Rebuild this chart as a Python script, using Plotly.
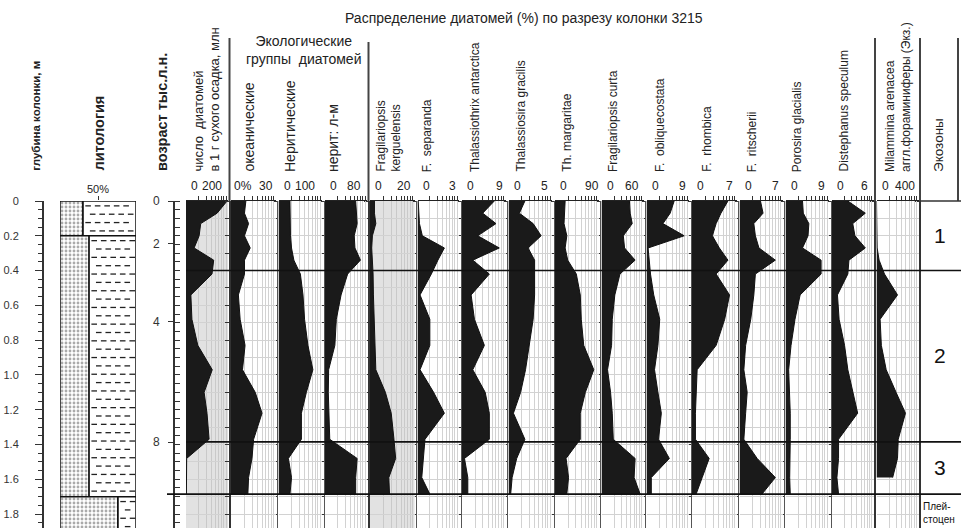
import plotly.graph_objects as go

# ---------------- DATA ----------------
depth = [0.00, 0.07, 0.13, 0.20, 0.27, 0.34, 0.42, 0.54, 0.68, 0.83, 0.97, 1.10, 1.22, 1.37, 1.48, 1.59, 1.685]

diatom_count   = [313, 237, 112, 100, 62, 211, 198, 37, 45, 90, 200, 138, 160, 176, 5, 3, 3]
oceanic        = [12.7, 11.5, 15, 11.5, 16.4, 11.5, 11.5, 6.3, 7.8, 12, 9.8, 20.7, 26.5, 19.3, 17.9, 15, 14.4]
neritic        = [44, 44, 46, 46, 50, 59, 84, 94, 100, 113, 132, 107, 88, 88, 38, 50, 44]
neritic_lm     = [84, 86, 88, 80, 82, 97, 62, 44, 31, 27, 10, 9, 11, 13, 88, 84, 84]
kerguelensis   = [2.6, 2.6, 3.4, 1.4, 1.0, 1.4, 1.8, 2.0, 2.4, 2.6, 3.4, 9, 12.4, 14, 15, 11, 11.4]
separanda      = [0.06, 0.11, 0.17, 0.42, 2.33, 1.77, 1.2, 0.22, 1.07, 1.07, 0.22, 1.4, 2.33, 0.65, 0.5, 0.37, 1.07]
antarctica     = [7.8, 5.0, 8.2, 3.8, 9.0, 2.6, 6.6, 2.2, 3.0, 5.4, 2.6, 5.6, 6.6, 6.6, 0.6, 1.4, 1.4]
gracilis       = [2.26, 1.5, 3.4, 4.5, 2.7, 3.6, 3.6, 3.6, 3.4, 2.9, 2.35, 1.67, 0.68, 2.26, 1.13, 0.5, 0.3]
margaritae     = [24.7, 23.8, 22, 28.8, 24.7, 31, 52, 61.6, 64, 70, 94.5, 74, 61.6, 61.6, 27, 33, 28.8]
curta          = [54.5, 56, 60, 42.6, 45, 65.6, 36, 26, 21, 19.7, 11.8, 17.7, 21, 23, 65.6, 63.6, 75.4]
obliquecostata = [6.9, 5.9, 4.1, 9.4, 0.4, 0.65, 1.0, 1.8, 3.3, 2.85, 2.0, 2.85, 3.7, 3.0, 5.7, 1.2, 1.2]
rhombica       = [6.7, 5.4, 4.5, 3.8, 5.1, 6.7, 4.5, 7.0, 6.1, 4.5, 0.96, 0.77, 0.64, 0.64, 3.2, 1.9, 0.77]
ritscherii     = [4.1, 4.6, 2.8, 3.1, 3.8, 7.0, 3.1, 2.8, 2.2, 1.2, 0.85, 1.5, 1.2, 0.85, 3.45, 7.0, 4.4]
porosira       = [4.3, 4.5, 5.9, 5.7, 4.3, 9.0, 9.0, 3.7, 2.4, 1.4, 0.8, 1.06, 1.2, 1.2, 1.06, 1.06, 1.2]
distephanus    = [2.9, 6.1, 3.8, 4.2, 6.1, 3.1, 2.9, 1.0, 1.3, 2.3, 2.9, 3.9, 4.7, 1.2, 1.2, 0.9, 1.2]
milammina      = [0, 0, 0, 0, 9, 36, 110, 290, 50, 67, 134, 270, 400, 300, 290, 223, None]

panel_titles = [
    "число  диатомей<br>в 1 г сухого осадка, млн",
    "океанические", "Неритические", "нерит: л-м",
    "Fragilariopsis<br>kerguelensis", "F.  separanda", "Thalassiothrix antarctica",
    "Thalassiosira gracilis", "Th. margaritae", "Fragilariopsis curta",
    "F.  obliquecostata", "F.  rhombica", "F.  ritscherii", "Porosira glacialis",
    "Distephanus speculum", "Milammina arenacea<br>аггл.фораминиферы (Экз.)",
]
panel_series = [diatom_count, oceanic, neritic, neritic_lm, kerguelensis, separanda,
                antarctica, gracilis, margaritae, curta, obliquecostata, rhombica,
                ritscherii, porosira, distephanus, milammina]
scale_zero_text = ["0", "0%", "0", "0", "0", "0", "0", "0", "0", "0", "0", "0", "0", "0", "0", "0"]
scale_max_value = [200, 30, 100, 80, 20, 3, 9, 5, 90, 60, 9, 7, 7, 9, 6, 400]

depth_tickvals = [0, 0.2, 0.4, 0.6, 0.8, 1.0, 1.2, 1.4, 1.6, 1.8]
depth_ticktext = ["0", "0.2", "0.4", "0.6", "0.8", "1.0", "1.2", "1.4", "1.6", "1.8"]
age_tick_depths = [0, 0.244, 0.693, 1.387]
age_ticktext = ["0", "2", "4", "8"]

zone_bounds = [0.40, 1.385, 1.685]
zone_names = ["1", "2", "3"]
zone_centers = [0.20, 0.89, 1.535]

lith_top = [0.0, 0.2, 1.7]
lith_bottom = [0.2, 1.7, 2.0]
lith_sand_pct = [30, 38, 76]
lith_scale_value = 50
lith_scale_text = "50%"

# ---------------- LAYOUT HELPERS ----------------
W, H = 961, 528
TOP = 201
PH = H - TOP
YMAX = 1.88
FONT = "Liberation Sans, Arial, sans-serif"


def fx(px):
    return px / W


def fy(py):
    return (H - py) / PH


bounds = [184.5, 229.5, 277, 323.5, 368.5, 416, 460.5, 507, 553.5, 600, 645,
          690.5, 738, 784, 830.5, 875, 920]
thick_bounds = {229.5, 368.5, 875, 920}
panel_range = [320, 38, 167, 115, 26, 3.6, 10.5, 6.0, 106, 82, 10.6, 8.3, 8.4, 11, 7.6, 580]
gray_panels = {0, 4}
title_x = [206.5, 248, 290, 333, 388, 426.7, 475, 520, 566.7, 613, 660, 706.7, 751.7,
           796.7, 843, 898]
title_size = [13, 14, 14, 14, 12, 12, 12, 12, 12, 12, 12, 12, 12, 12, 12, 12]
grid_frac = [0.301, 0.477, 0.602, 0.699, 0.778, 0.845, 0.903, 0.954]

fig = go.Figure()
layout = dict(
    width=W, height=H, margin=dict(l=0, r=0, t=TOP, b=0, pad=0),
    paper_bgcolor="white", plot_bgcolor="white", showlegend=False,
    font=dict(family=FONT, size=12, color="#222"), barmode="overlay",
)

annotations = []
shapes = []

# main y: horizontal grid every 0.1 m
layout["yaxis"] = dict(domain=[0, 1], range=[YMAX, 0], anchor="x", showgrid=True,
                       gridcolor="#d2d2d2", gridwidth=1, tickmode="linear", tick0=0,
                       dtick=0.1, showticklabels=False, ticks="", showline=False,
                       zeroline=False, fixedrange=True)

# panels
for i, (vals, title) in enumerate(zip(panel_series, panel_titles)):
    n = i + 1
    xa = "x" if n == 1 else f"x{n}"
    key = "xaxis" if n == 1 else f"xaxis{n}"
    left, right = bounds[i] + 1.5, bounds[i + 1] - 1.5
    mx = panel_range[i]
    gc = "#c9c9c9" if i in gray_panels else "#d2d2d2"
    layout[key] = dict(domain=[fx(left), fx(right)], range=[0, mx], anchor="y", side="top",
                       showgrid=True, gridcolor=gc, gridwidth=1, tickmode="array",
                       tickvals=[f * mx for f in grid_frac], ticks="outside", ticklen=4,
                       tickcolor="#333", showticklabels=False, showline=True,
                       linecolor="#222", linewidth=1, zeroline=False, fixedrange=True)
    if i in gray_panels:
        shapes.append(dict(type="rect", xref=f"{xa} domain", yref="paper", x0=0, x1=1,
                           y0=0, y1=1, fillcolor="#e2e2e2", line=dict(width=0), layer="below"))
    xs = [v for v in vals if v is not None]
    ys = [d for d, v in zip(depth, vals) if v is not None]
    fig.add_trace(go.Scatter(x=xs, y=ys, xaxis=xa, yaxis="y", mode="lines", fill="tozerox",
                             line=dict(color="#111", width=1), fillcolor="#1a1a1a",
                             hoverinfo="skip"))
    # scale labels
    annotations.append(dict(text=scale_zero_text[i], xref=xa, yref="paper", x=0, y=fy(186),
                            xanchor="left", yanchor="middle", xshift=1 if scale_zero_text[i] != "0" else 3,
                            showarrow=False, font=dict(size=12, color="#222")))
    annotations.append(dict(text=str(scale_max_value[i]), xref=xa, yref="paper",
                            x=scale_max_value[i], y=fy(186), xanchor="center", yanchor="middle",
                            showarrow=False, font=dict(size=12, color="#222")))
    # header
    annotations.append(dict(text=title, xref="paper", yref="paper", x=fx(title_x[i]), y=fy(174),
                            xanchor="center", yanchor="bottom", textangle=-90, align="left",
                            showarrow=False, font=dict(size=title_size[i], color="#222")))

# overlay axes: age, depth ruler, boundaries
yr = [YMAX, 0]
layout["yaxis2"] = dict(overlaying="y", anchor="free", position=fx(173), side="left", range=yr,
                        tickmode="array", tickvals=age_tick_depths, ticktext=age_ticktext,
                        ticks="outside", ticklen=5, tickcolor="#333", showline=True,
                        linecolor="#333", linewidth=1.5, showgrid=False, zeroline=False,
                        tickfont=dict(size=12, color="#333"), ticklabelstandoff=6,
                        minor=dict(tickmode="linear", tick0=0, dtick=0.05, ticks="inside",
                                   ticklen=5, tickcolor="#333", showgrid=False),
                        fixedrange=True)
layout["yaxis3"] = dict(overlaying="y", anchor="free", position=fx(42), side="left", range=yr,
                        tickmode="array", tickvals=depth_tickvals, ticktext=depth_ticktext,
                        ticks="outside", ticklen=7, tickcolor="#333", showline=True,
                        linecolor="#333", linewidth=1.5, showgrid=False, zeroline=False,
                        tickfont=dict(size=11, color="#333"), ticklabelstandoff=14,
                        minor=dict(tickmode="linear", tick0=0, dtick=0.05, ticks="outside",
                                   ticklen=4, tickcolor="#333", showgrid=False),
                        fixedrange=True)
ov = ["y2", "y3"]
for k, b in enumerate(bounds[1:]):
    yn = k + 4
    thick = b in thick_bounds
    layout[f"yaxis{yn}"] = dict(overlaying="y", anchor="free", position=fx(b), side="left",
                                range=yr, tickmode="linear", tick0=0, dtick=0.1,
                                ticks="outside", ticklen=4, tickcolor="#333",
                                showline=True, linecolor="#333" if thick else "#555",
                                linewidth=2.2 if thick else 1.3, showticklabels=False,
                                showgrid=False, zeroline=False, fixedrange=True)
    ov.append(f"y{yn}")
for ya in ov:
    fig.add_trace(go.Scatter(x=[0], y=[0], xaxis="x", yaxis=ya, mode="markers",
                             marker=dict(size=1, opacity=0), hoverinfo="skip"))

# lithology column
LY = "y20"
layout["xaxis17"] = dict(domain=[fx(60), fx(136)], range=[0, 100], anchor=LY, side="top",
                         showgrid=False, zeroline=False, showline=False, tickmode="array",
                         tickvals=[lith_scale_value], ticks="outside", ticklen=4,
                         tickcolor="#333", showticklabels=False, fixedrange=True)
layout["yaxis20"] = dict(domain=[0, 1], range=yr, anchor="x17", visible=False,
                         showgrid=False, zeroline=False, fixedrange=True)
annotations.append(dict(text=lith_scale_text, xref="x17", yref="paper", x=lith_scale_value,
                        y=fy(189), xanchor="center", yanchor="middle", showarrow=False,
                        font=dict(size=11, color="#222")))
mids = [(t + b) / 2 for t, b in zip(lith_top, lith_bottom)]
thk = [b - t for t, b in zip(lith_top, lith_bottom)]
fig.add_trace(go.Bar(orientation="h", y=mids, x=[100 - s for s in lith_sand_pct],
                     base=lith_sand_pct, width=thk, xaxis="x17", yaxis=LY,
                     marker=dict(color="white", line=dict(color="#111", width=1.5)),
                     hoverinfo="skip"))
fig.add_trace(go.Bar(orientation="h", y=mids, x=lith_sand_pct, base=[0, 0, 0], width=thk,
                     xaxis="x17", yaxis=LY,
                     marker=dict(color="white", line=dict(color="#111", width=1.5),
                                 pattern=dict(shape=".", fgcolor="#555", bgcolor="white",
                                              size=4, solidity=0.4)),
                     hoverinfo="skip"))
dx, dy = [], []
for t, b, s in zip(lith_top, lith_bottom, lith_sand_pct):
    r = 0
    yy = t + 0.028
    while yy < min(b, YMAX + 0.02) - 0.01:
        xx = s + 7 + (6 if r % 2 else 0)
        while xx < 96:
            dx.append(xx)
            dy.append(yy)
            xx += 12.5
        yy += 0.048
        r += 1
fig.add_trace(go.Scatter(x=dx, y=dy, xaxis="x17", yaxis=LY, mode="markers",
                         marker=dict(symbol="line-ew", size=4, line=dict(width=1.3, color="#222")),
                         hoverinfo="skip"))

# zone lines
for j, zb in enumerate(zone_bounds):
    shapes.append(dict(type="line", xref="paper", yref="y", x0=fx(167 if j == 2 else 186),
                       x1=1, y0=zb, y1=zb, line=dict(color="#111", width=1.6), layer="above"))
for zn, zc in zip(zone_names, zone_centers):
    annotations.append(dict(text=zn, xref="paper", yref="y", x=fx(940), y=zc, xanchor="center",
                            yanchor="middle", showarrow=False, font=dict(size=21, color="#111")))
annotations.append(dict(text="Плей-<br>стоцен", xref="paper", yref="paper", x=fx(921), y=fy(513),
                        xanchor="left", yanchor="middle", align="left", showarrow=False,
                        font=dict(size=10, color="#111")))

# header separators
for bx, top in [(229.5, 38), (368.5, 42), (875, 38), (920, 38), (958, 38)]:
    shapes.append(dict(type="line", xref="paper", yref="paper", x0=fx(bx), x1=fx(bx),
                       y0=fy(201), y1=fy(top), line=dict(color="#444", width=2)))
shapes.append(dict(type="line", xref="paper", yref="paper", x0=fx(920), x1=1, y0=fy(201),
                   y1=fy(201), line=dict(color="#333", width=1.5)))

# other header texts
for txt, px, sz in [("глубина колонки, м", 35.7, 11.5), ("литология", 99, 14.5),
                    ("возраст тыс.л.н.", 162, 14.5)]:
    annotations.append(dict(text=f"<b>{txt}</b>", xref="paper", yref="paper", x=fx(px), y=fy(173),
                            xanchor="center", yanchor="bottom", textangle=-90, showarrow=False,
                            font=dict(size=sz, color="#222")))
annotations.append(dict(text="Экозоны", xref="paper", yref="paper", x=fx(938), y=fy(174),
                        xanchor="center", yanchor="bottom", textangle=-90, showarrow=False,
                        font=dict(size=13.5, color="#222")))
annotations.append(dict(text="Экологические<br>группы  диатомей", xref="paper", yref="paper",
                        x=fx(303), y=fy(50), xanchor="center", yanchor="middle", align="center",
                        showarrow=False, font=dict(size=14, color="#222")))
annotations.append(dict(text="Распределение диатомей (%) по разрезу колонки 3215", xref="paper",
                        yref="paper", x=fx(524), y=fy(18), xanchor="center", yanchor="middle",
                        showarrow=False, font=dict(size=14, color="#222")))

layout["annotations"] = annotations
layout["shapes"] = shapes
fig.update_layout(**layout)
fig.write_html("out.html", config={"displayModeBar": False, "staticPlot": True},
               post_script="document.body.style.margin='0px';document.body.style.padding='0px';")
